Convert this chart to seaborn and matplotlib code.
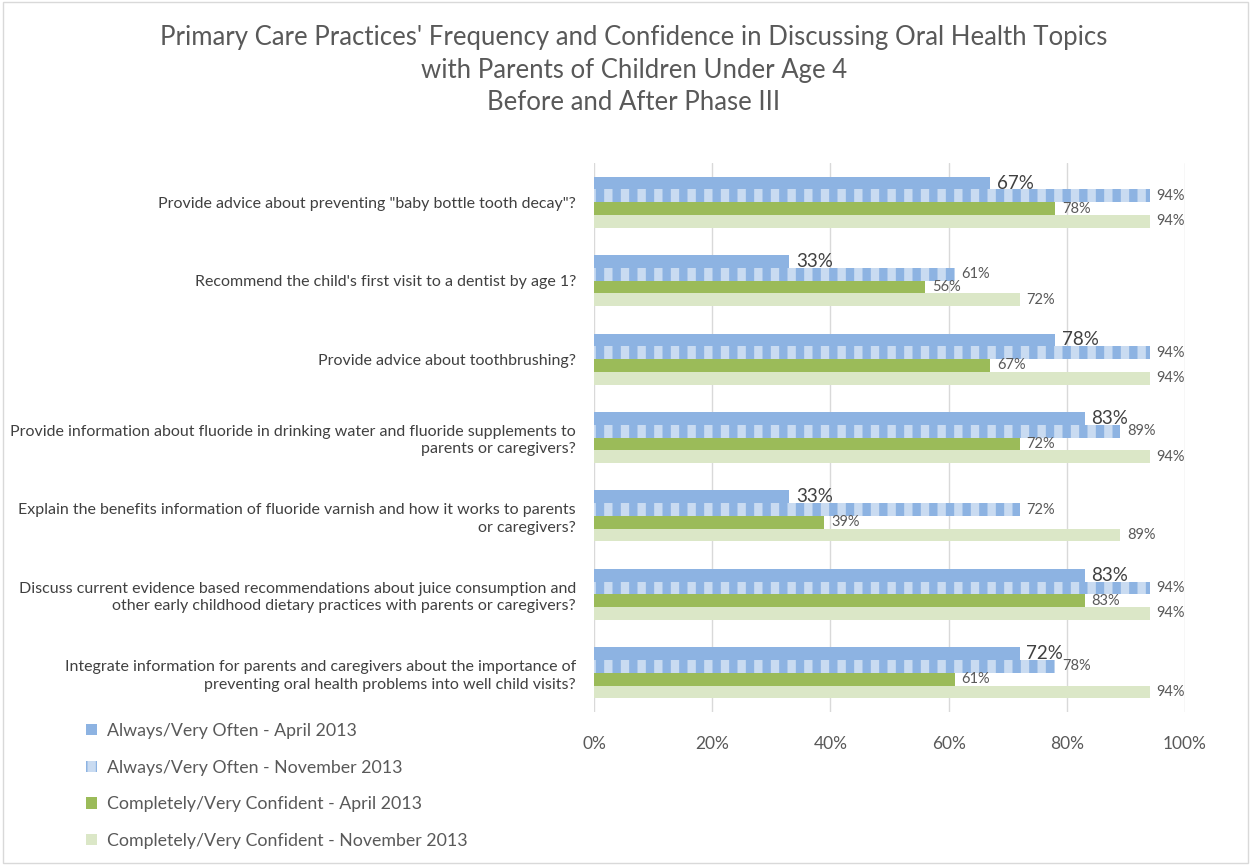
import matplotlib
matplotlib.use("Agg")
import matplotlib.pyplot as plt
import pandas as pd
import seaborn as sns
from matplotlib.patches import Patch, Rectangle

# Survey items (one group of bars per item)
questions = [
    'Provide advice about preventing "baby bottle tooth decay"?',
    "Recommend the child's first visit to a dentist by age 1?",
    "Provide advice about toothbrushing?",
    "Provide information about fluoride in drinking water and fluoride supplements to\nparents or caregivers?",
    "Explain the benefits information of fluoride varnish and how it works to parents\nor caregivers?",
    "Discuss current evidence based recommendations about juice consumption and\nother early childhood dietary practices with parents or caregivers?",
    "Integrate information for parents and caregivers about the importance of\npreventing oral health problems into well child visits?",
]

series_names = [
    "Always/Very Often - April 2013",
    "Always/Very Often - November 2013",
    "Completely/Very Confident - April 2013",
    "Completely/Very Confident - November 2013",
]

# Percent of practices
often_apr = [67, 33, 78, 83, 33, 83, 72]
often_nov = [94, 61, 94, 89, 72, 94, 78]
conf_apr = [78, 56, 67, 72, 39, 83, 61]
conf_nov = [94, 72, 94, 94, 89, 94, 94]

x_ticks = [0, 20, 40, 60, 80, 100]

colors = ["#8db3e2", "#8db3e2", "#9bbb59", "#dbe7c7"]
stripe_color = "#c9dbf1"
text_color = "#595959"

rows = []
for name, vals in zip(series_names, [often_apr, often_nov, conf_apr, conf_nov]):
    for q, v in zip(questions, vals):
        rows.append({"question": q, "series": name, "value": v})
df = pd.DataFrame(rows)

sns.set_theme(style="white")
plt.rcParams["font.family"] = ["Lato", "DejaVu Sans"]
plt.rcParams["hatch.linewidth"] = 6

fig = plt.figure(figsize=(12.5, 8.65), dpi=100)
ax = fig.add_axes([594 / 1250, 1 - 712 / 865, (1185 - 594) / 1250, (712 - 163) / 865])

sns.barplot(
    data=df, x="value", y="question", hue="series", orient="h",
    hue_order=series_names, order=questions, palette=colors,
    saturation=1, width=0.65, gap=0, legend=False, ax=ax,
)

# Striped fill for the November "Always/Very Often" bars
for bar in ax.containers[1]:
    bar.set_hatch("|")
    bar.set_edgecolor(stripe_color)
for c in ax.containers:
    for bar in c:
        bar.set_linewidth(0)

# Value labels
ax.bar_label(ax.containers[0], fmt="%.0f%%", padding=5, fontsize=13.5, color="#404040")
for c in ax.containers[1:]:
    ax.bar_label(c, fmt="%.0f%%", padding=5, fontsize=10.5, color=text_color)

ax.set_xlim(0, 100)
ax.set_xticks(x_ticks)
ax.set_xticklabels([f"{t}%" for t in x_ticks])
ax.set_xlabel("")
ax.set_ylabel("")
ax.grid(axis="x", color="#d9d9d9", linewidth=1)
ax.set_axisbelow(True)
for s in ax.spines.values():
    s.set_visible(False)
ax.tick_params(axis="x", length=0, pad=17, labelsize=12.5, labelcolor=text_color)
ax.tick_params(axis="y", length=0, pad=13, labelsize=11.5, labelcolor="#404040")
for lbl in ax.get_yticklabels():
    lbl.set_linespacing(1.3)

fig.text(
    0.507, 1 - 25 / 865,
    "Primary Care Practices' Frequency and Confidence in Discussing Oral Health Topics\n"
    "with Parents of Children Under Age 4\nBefore and After Phase III",
    ha="center", va="top", fontsize=18.5, color=text_color, linespacing=1.38,
)

handles = []
for i, (name, col) in enumerate(zip(series_names, colors)):
    if i == 1:
        handles.append(Patch(facecolor=col, edgecolor=stripe_color, hatch="|", linewidth=0, label=name))
    else:
        handles.append(Patch(facecolor=col, linewidth=0, label=name))
fig.legend(
    handles=handles, loc="upper left", bbox_to_anchor=(86 / 1250, 1 - 723 / 865),
    frameon=False, fontsize=12.8, labelcolor=text_color, handlelength=0.6,
    handleheight=0.6, handletextpad=0.6, labelspacing=1.16, borderpad=0,
    borderaxespad=0,
)

fig.patches.append(Rectangle((0.002, 0.002), 0.996, 0.996, transform=fig.transFigure,
                             fill=False, edgecolor="#d9d9d9", linewidth=1))

fig.savefig("out.png", dpi=100)
